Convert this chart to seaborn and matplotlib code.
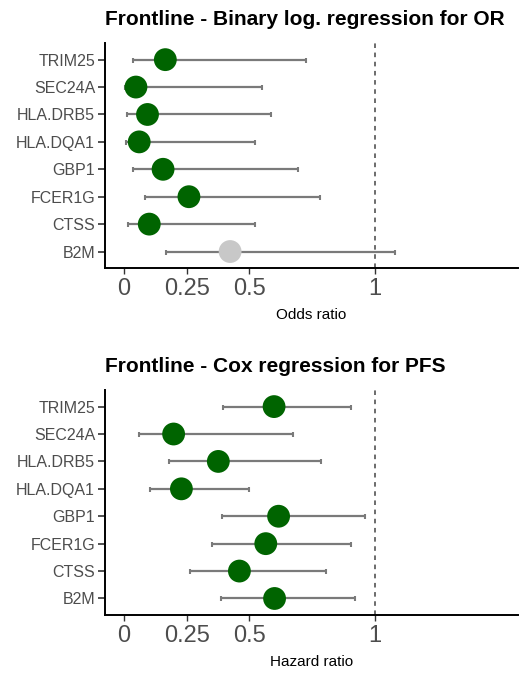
import matplotlib
matplotlib.use("Agg")
import matplotlib.pyplot as plt
import seaborn as sns
import pandas as pd
import numpy as np

genes = ["TRIM25", "SEC24A", "HLA.DRB5", "HLA.DQA1", "GBP1", "FCER1G", "CTSS", "B2M"]

# Top panel: odds ratios
or_est = [0.165, 0.048, 0.094, 0.061, 0.156, 0.259, 0.101, 0.423]
or_lo = [0.037, 0.005, 0.012, 0.007, 0.035, 0.085, 0.016, 0.166]
or_hi = [0.726, 0.550, 0.586, 0.524, 0.695, 0.779, 0.521, 1.078]
or_sig = ["yes", "yes", "yes", "yes", "yes", "yes", "yes", "no"]

# Bottom panel: hazard ratios
hr_est = [0.598, 0.198, 0.376, 0.229, 0.616, 0.565, 0.460, 0.600]
hr_lo = [0.394, 0.060, 0.181, 0.104, 0.392, 0.351, 0.263, 0.388]
hr_hi = [0.905, 0.674, 0.785, 0.497, 0.962, 0.905, 0.805, 0.919]
hr_sig = ["yes"] * 8

xticks = [0, 0.25, 0.5, 1]
xtick_labels = ["0", "0.25", "0.5", "1"]

sns.set_style("ticks")
plt.rcParams["font.family"] = ["Liberation Sans", "DejaVu Sans"]

fig = plt.figure(figsize=(5.32, 6.75), dpi=100)
ax1 = fig.add_axes([0.197, 0.603, 0.777, 0.333])
ax2 = fig.add_axes([0.197, 0.089, 0.777, 0.333])

palette = {"yes": "#006400", "no": "#C8C8C8"}


def panel(ax, est, lo, hi, sig, title, xlabel):
    df = pd.DataFrame({"gene": genes, "est": est, "lo": lo, "hi": hi, "sig": sig})
    ax.axvline(1, color="#444444", lw=1.1, dashes=(3, 3), zorder=1)
    sns.scatterplot(data=df, x="est", y="gene", hue="sig", palette=palette,
                    s=270, edgecolor="none", legend=False, ax=ax, zorder=3)
    ax.errorbar(x=df["est"], y=df["gene"],
                xerr=[df["est"] - df["lo"], df["hi"] - df["est"]],
                fmt="none", ecolor="#7A7A7A", elinewidth=1.6, capsize=1.8,
                capthick=1.5, zorder=2)
    ax.set_ylim(len(genes) - 0.4, -0.6)
    ax.set_xlim(-0.076, 1.57)
    ax.set_xticks(xticks)
    ax.set_xticklabels(xtick_labels)
    ax.set_ylabel("")
    ax.set_xlabel(xlabel, fontsize=11, color="black", labelpad=6)
    ax.set_title(title, loc="left", fontsize=15, fontweight="bold", pad=13,
                 x=0.0, color="black")
    for s in ["top", "right"]:
        ax.spines[s].set_visible(False)
    for s in ["left", "bottom"]:
        ax.spines[s].set_linewidth(1.4)
        ax.spines[s].set_color("black")
    ax.tick_params(axis="y", labelsize=11.5, labelcolor="#4D4D4D", length=5,
                   width=1.2, color="#333333", pad=2)
    ax.tick_params(axis="x", labelsize=17, labelcolor="#4D4D4D", length=4,
                   width=1.0, color="#333333", pad=3)
    ax.grid(False)


panel(ax1, or_est, or_lo, or_hi, or_sig,
      "Frontline - Binary log. regression for OR", "Odds ratio")
panel(ax2, hr_est, hr_lo, hr_hi, hr_sig,
      "Frontline - Cox regression for PFS", "Hazard ratio")

fig.savefig("out.png", dpi=100)
